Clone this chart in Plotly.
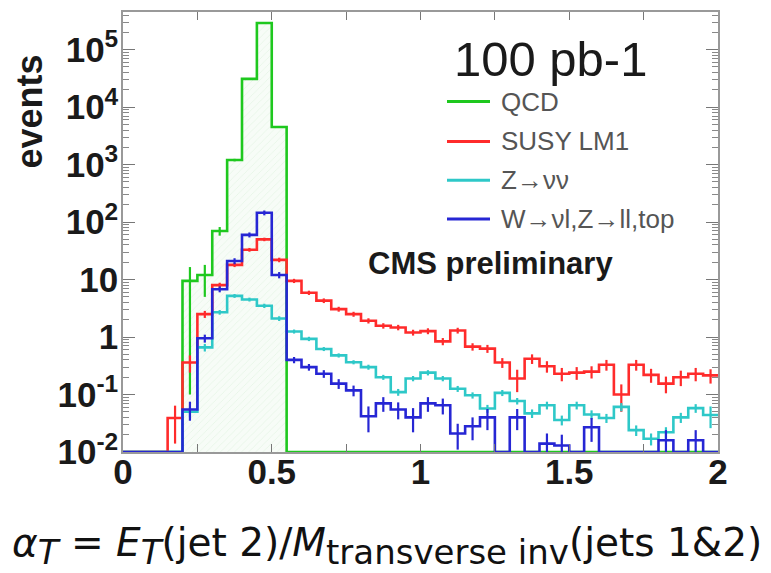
import plotly.graph_objects as go

# ---------------- data ----------------
BIN_W = 0.05          # bin width in alpha_T
N_BINS = 40           # 0 .. 2

qcd = [0, 0, 0, 0, 9.5, 12, 70, 1200, 3.1e4, 2.9e5,
       4500, 0, 0, 0, 0, 0, 0, 0, 0, 0,
       0, 0, 0, 0, 0, 0, 0, 0, 0, 0,
       0, 0, 0, 0, 0, 0, 0, 0, 0, 0]
qcd_err_up = [0, 0, 0, 0, 7, 6, 12, 60, 500, 2000,
              150, 0, 0, 0, 0, 0, 0, 0, 0, 0,
              0, 0, 0, 0, 0, 0, 0, 0, 0, 0,
              0, 0, 0, 0, 0, 0, 0, 0, 0, 0]
qcd_err_dn = [0, 0, 0, 0, 9.4, 7, 12, 60, 500, 2000,
              150, 0, 0, 0, 0, 0, 0, 0, 0, 0,
              0, 0, 0, 0, 0, 0, 0, 0, 0, 0,
              0, 0, 0, 0, 0, 0, 0, 0, 0, 0]

susy = [0, 0, 0, 0.039, 0.36, 2.5, 8, 18, 33, 50,
        22, 9.5, 5.9, 4.3, 3.06, 2.5, 1.92, 1.57, 1.47, 1.2,
        1.27, 0.84, 1.3, 0.68, 0.63, 0.36, 0.19, 0.42, 0.31, 0.23,
        0.24, 0.25, 0.33, 0.1, 0.33, 0.22, 0.155, 0.2, 0.23, 0.215]
susy_err = [0, 0, 0, 0.025, 0.12, 0.35, 0.8, 1.5, 2.5, 3.5,
            2, 0.8, 0.5, 0.4, 0.3, 0.25, 0.2, 0.17, 0.16, 0.14,
            0.15, 0.12, 0.15, 0.1, 0.1, 0.07, 0.08, 0.08, 0.07, 0.06,
            0.06, 0.06, 0.07, 0.05, 0.07, 0.06, 0.05, 0.06, 0.06, 0.06]

znn = [0, 0, 0, 0, 0.05, 0.66, 2.7, 5.2, 4.5, 3.5,
       2.1, 1.25, 0.93, 0.62, 0.48, 0.365, 0.30, 0.2, 0.11, 0.19,
       0.24, 0.19, 0.126, 0.097, 0.057, 0.107, 0.077, 0.047, 0.065, 0.036,
       0.065, 0.045, 0.039, 0.061, 0.024, 0.017, 0.022, 0.04, 0.058, 0.044]
znn_err = [0, 0, 0, 0, 0.01, 0.1, 0.25, 0.4, 0.35, 0.3,
           0.2, 0.1, 0.08, 0.05, 0.04, 0.03, 0.03, 0.02, 0.015, 0.02,
           0.025, 0.02, 0.015, 0.012, 0.009, 0.013, 0.01, 0.008, 0.01, 0.007,
           0.01, 0.008, 0.007, 0.01, 0.005, 0.004, 0.005, 0.008, 0.01, 0.018]

wzt = [0, 0, 0, 0, 0.055, 0.95, 6.8, 21, 60, 145,
       12, 0.4, 0.3, 0.23, 0.155, 0.118, 0.042, 0.07, 0.055, 0.04,
       0.07, 0.065, 0.021, 0.028, 0.04, 0, 0.04, 0, 0.014, 0.013,
       0, 0.027, 0, 0, 0, 0, 0.016, 0, 0.016, 0]
wzt_err = [0, 0, 0, 0, 0.02, 0.15, 0.8, 2.5, 6, 14,
           1.5, 0.05, 0.04, 0.035, 0.03, 0.025, 0.02, 0.02, 0.018, 0.018,
           0.02, 0.02, 0.01, 0.012, 0.016, 0, 0.016, 0, 0.007, 0.007,
           0, 0.012, 0, 0, 0, 0, 0.008, 0, 0.008, 0]

series_names = ["QCD", "SUSY LM1", "Z\u2192\u03bd\u03bd", "W\u2192\u03bdl,Z\u2192ll,top"]
colors = ["#1ec81e", "#ff2b2b", "#2ec8c8", "#2626d4"]

y_tick_vals = [0.01, 0.1, 1, 10, 100, 1e3, 1e4, 1e5]
y_tick_text = ["10<sup>-2</sup>", "10<sup>-1</sup>", "1", "10", "10<sup>2</sup>",
               "10<sup>3</sup>", "10<sup>4</sup>", "10<sup>5</sup>"]
x_tick_vals = [0, 0.5, 1, 1.5, 2]
x_tick_text = ["0", "0.5", "1", "1.5", "2"]

Y_LOG_MIN, Y_LOG_MAX = -2, 5.655
FLOOR = 10 ** Y_LOG_MIN

# ---------------- helpers ----------------
edges = [round(i * BIN_W, 4) for i in range(N_BINS + 1)]
centers = [round((i + 0.5) * BIN_W, 4) for i in range(N_BINS)]


def step_y(vals):
    y = [v if v > 0 else FLOOR for v in vals]
    return y + [y[-1]]


def err_trace(vals, up, dn, color):
    xs, ys, eu, ed = [], [], [], []
    for c, v, u, d in zip(centers, vals, up, dn):
        if v > 0 and u > 0:
            xs.append(c)
            ys.append(v)
            eu.append(u)
            ed.append(min(d, v - FLOOR * 0.5))
    return go.Scatter(x=xs, y=ys, mode="markers",
                      marker=dict(size=1, color=color, opacity=0),
                      error_y=dict(type="data", array=eu, arrayminus=ed,
                                   symmetric=False, color=color,
                                   thickness=2.2, width=0),
                      showlegend=False, hoverinfo="skip")


fig = go.Figure()

# hatched fill under QCD
fig.add_trace(go.Scatter(
    x=edges, y=step_y(qcd), mode="lines", line=dict(width=0, shape="hv"),
    fill="toself", fillcolor="rgba(0,0,0,0)",
    fillpattern=dict(shape="/", fgcolor="rgba(90,180,90,0.28)",
                     bgcolor="rgba(240,250,240,0.5)", size=5, solidity=0.12),
    showlegend=False, hoverinfo="skip"))

all_vals = [qcd, susy, znn, wzt]
all_up = [qcd_err_up, susy_err, znn_err, wzt_err]
all_dn = [qcd_err_dn, susy_err, znn_err, wzt_err]

for vals, up, dn, col, name in zip(all_vals, all_up, all_dn, colors, series_names):
    fig.add_trace(go.Scatter(x=edges, y=step_y(vals), mode="lines", name=name,
                             line=dict(color=col, width=2.6, shape="hv"),
                             showlegend=False))
    fig.add_trace(err_trace(vals, up, dn, col))

# ---------------- layout ----------------
OFF = 8                      # page offset of the figure (body margin)
W, H = 771 - OFF, 573 - OFF
PLOT_L, PLOT_R, PLOT_T, PLOT_B = 123, 718, 10, 452   # page pixels
L, T = PLOT_L - OFF, PLOT_T - OFF
R, B = W - (PLOT_R - OFF), H - (PLOT_B - OFF)
PW, PH = PLOT_R - PLOT_L, PLOT_B - PLOT_T


def px_x(px):
    return (px - PLOT_L) / PW


def px_y(py):
    return (PLOT_B - py) / PH


minor_y = [k * 10 ** d for d in range(-2, 6) for k in range(2, 10)]

tick_font = dict(family="Liberation Sans", size=35, color="#1a1a1a", weight="bold")

fig.update_layout(
    width=W, height=H,
    margin=dict(l=L, r=R, t=T, b=B),
    paper_bgcolor="white", plot_bgcolor="white",
    showlegend=False,
    xaxis=dict(range=[0, 2], tickmode="array", tickvals=x_tick_vals, ticktext=x_tick_text,
               ticks="inside", ticklen=8, tickwidth=1.2, tickcolor="#777",
               showline=True, linecolor="#999", linewidth=1.5, mirror="allticks",
               showgrid=False, zeroline=False, tickfont=tick_font,
               ticklabelstandoff=-12,
               minor=dict(tickmode="array", tickvals=[0.25, 0.75, 1.25, 1.75],
                          ticks="inside", ticklen=8, tickcolor="#777", showgrid=False)),
    yaxis=dict(type="log", range=[Y_LOG_MIN, Y_LOG_MAX], tickmode="array",
               tickvals=y_tick_vals, ticktext=y_tick_text,
               ticks="inside", ticklen=12, tickwidth=1.2, tickcolor="#777",
               showline=True, linecolor="#999", linewidth=1.5, mirror="allticks",
               showgrid=False, zeroline=False, tickfont=tick_font,
               ticklabelstandoff=-4,
               minor=dict(tickmode="array", tickvals=minor_y, ticks="inside",
                          ticklen=6, tickcolor="#888", showgrid=False)),
)

# y-axis title
fig.add_annotation(text="events", xref="paper", yref="paper",
                   x=px_x(30), y=px_y(110), showarrow=False, textangle=-90,
                   xanchor="center", yanchor="middle",
                   font=dict(family="Liberation Sans", size=36, color="#1a1a1a", weight="bold"))

# x-axis title
sub = '<sub><span style="font-size:34px">{}</span></sub>'
fig.add_annotation(
    text="<i>\u03b1</i>" + sub.format("<i>T</i>") + " = <i>E</i>" + sub.format("<i>T</i>")
         + "(jet 2)/<i>M</i>" + sub.format("transverse inv") + "(jets 1&amp;2)",
    xref="paper", yref="paper", x=px_x(10), y=px_y(546), showarrow=False,
    xanchor="left", yanchor="middle",
    font=dict(family="DejaVu Sans", size=39, color="#111"))

# luminosity label
fig.add_annotation(text="100 pb-1", xref="paper", yref="paper",
                   x=px_x(550), y=px_y(57), showarrow=False,
                   xanchor="center", yanchor="middle",
                   font=dict(family="Liberation Sans", size=49, color="#1a1a1a"))

# CMS preliminary
fig.add_annotation(text="CMS preliminary", xref="paper", yref="paper",
                   x=px_x(366), y=px_y(263), showarrow=False,
                   xanchor="left", yanchor="middle",
                   font=dict(family="Liberation Sans", size=31, color="#1a1a1a", weight="bold"))

# manual legend
legend_rows = [100, 140, 179, 218]
for name, col, ry in zip(series_names, colors, legend_rows):
    fig.add_shape(type="line", xref="paper", yref="paper",
                  x0=px_x(447), x1=px_x(490), y0=px_y(ry), y1=px_y(ry),
                  line=dict(color=col, width=3))
    fig.add_annotation(text=name, xref="paper", yref="paper",
                       x=px_x(499), y=px_y(ry), showarrow=False,
                       xanchor="left", yanchor="middle",
                       font=dict(family="Liberation Sans", size=26, color="#555"))

fig.write_html("out.html")
